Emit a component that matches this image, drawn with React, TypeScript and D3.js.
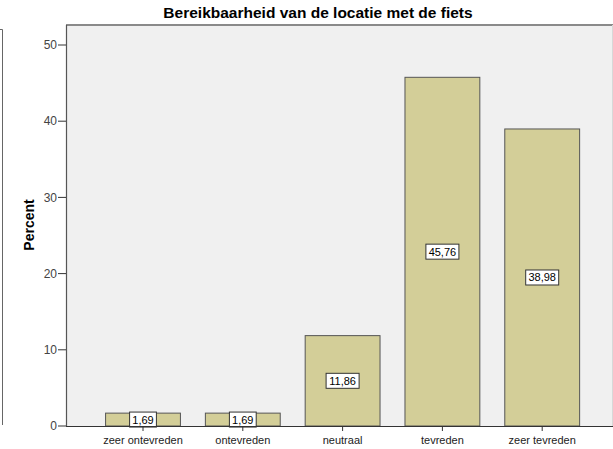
import React from "react";
import * as d3 from "d3";

const categories = ["zeer ontevreden", "ontevreden", "neutraal", "tevreden", "zeer tevreden"];
const percents = [1.69, 1.69, 11.86, 45.76, 38.98];
const labels = ["1,69", "1,69", "11,86", "45,76", "38,98"];
const yTicks = [0, 10, 20, 30, 40, 50];
const title = "Bereikbaarheid van de locatie met de fiets";
const yTitle = "Percent";

const W = 613, H = 449;
const left = 66, right = 612, top = 25, bottom = 426;

export default function App() {
  const x = d3.scaleBand<string>().domain(categories).range([93.1, 592.1]).paddingInner(0.25).paddingOuter(0.125);
  const y = d3.scaleLinear().domain([0, 50]).range([bottom, 45]);
  const font = "Arial, 'Liberation Sans', sans-serif";
  return (
    <svg width={W} height={H} style={{ position: "absolute", left: 0, top: 0, background: "#fff" }} fontFamily={font}>
      <path d="M0,29.5 H2.5 V425" fill="none" stroke="#666" strokeWidth={1} />
      <text x={318} y={17.5} textAnchor="middle" fontSize={15.5} fontWeight="bold" fill="#000">{title}</text>
      <rect x={left} y={top} width={right - left} height={bottom - top} fill="#f0f0f0" />
      <line x1={left} x2={W} y1={top} y2={top} stroke="#8a8a8a" strokeWidth={2} />
      <line x1={right + 0.5} x2={right + 0.5} y1={top} y2={bottom} stroke="#d8d8d8" strokeWidth={1} />
      {categories.map((c, i) => {
        const bx = x(c)!;
        const bw = x.bandwidth();
        const yt = y(percents[i]);
        const cx = bx + bw / 2;
        const cy = (yt + bottom) / 2;
        const lw = labels[i].length * 6.2 + 2;
        return (
          <g key={c}>
            <rect x={bx} y={yt} width={bw} height={bottom - yt} fill="#d3ce98" stroke="#555" strokeWidth={1} />
            <rect x={cx - lw / 2} y={cy - 7.5} width={lw} height={15} fill="#fff" stroke="#333" strokeWidth={1} />
            <text x={cx} y={cy + 4} textAnchor="middle" fontSize={11} fill="#000">{labels[i]}</text>
            <line x1={cx} x2={cx} y1={bottom} y2={bottom + 5} stroke="#333" />
            <text x={cx} y={444} textAnchor="middle" fontSize={11} fill="#222">{c}</text>
          </g>
        );
      })}
      <line x1={left} x2={W} y1={bottom + 0.5} y2={bottom + 0.5} stroke="#333" strokeWidth={1.2} />
      <line x1={left + 0.5} x2={left + 0.5} y1={top} y2={bottom} stroke="#555" strokeWidth={1.2} />
      {yTicks.map((t) => (
        <g key={t}>
          <line x1={58} x2={left} y1={y(t)} y2={y(t)} stroke="#333" />
          <text x={57} y={y(t) + 4.2} textAnchor="end" fontSize={12} fill="#444">{t}</text>
        </g>
      ))}
      <text transform={`translate(33.5,225) rotate(-90)`} textAnchor="middle" fontSize={14} fontWeight="bold" fill="#000">{yTitle}</text>
    </svg>
  );
}
